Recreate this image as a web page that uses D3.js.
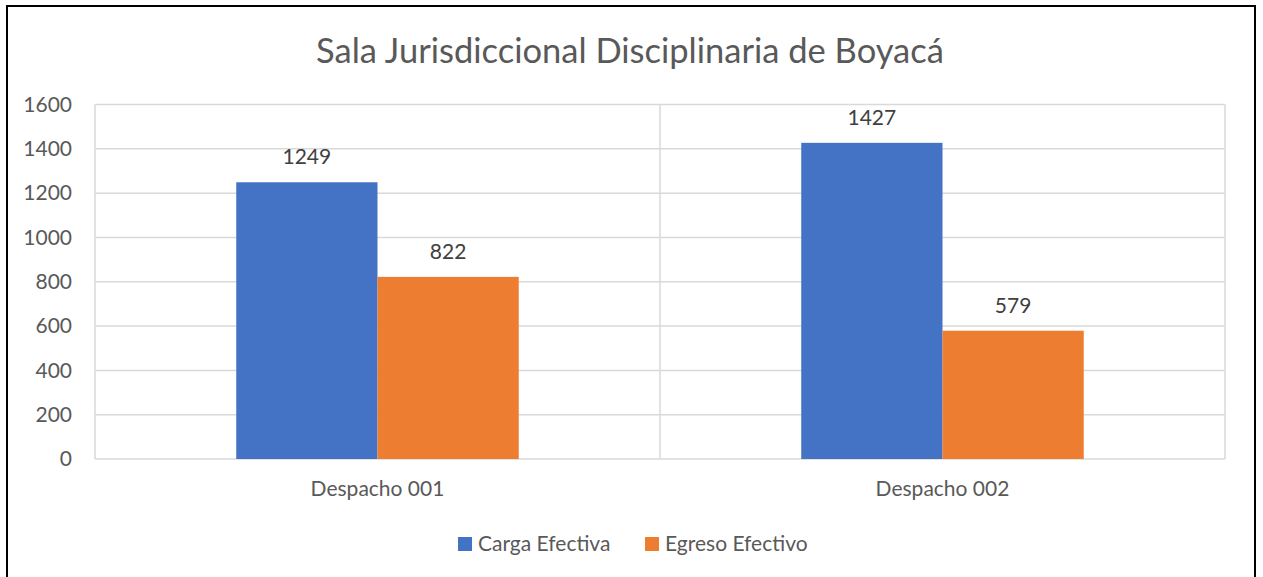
<!DOCTYPE html>
<html>
<head>
<meta charset="utf-8">
<script src="https://cdn.jsdelivr.net/npm/d3@7"></script>
<style>
  body { margin: 0; background: #fff; }
  svg { display: block; font-family: Lato, "Open Sans", sans-serif; }
</style>
</head>
<body>
<svg id="chart" width="1263" height="577"></svg>
<script>
// Datos del gráfico
const despachos = ['Despacho 001', 'Despacho 002'];
const series = ['Carga Efectiva', 'Egreso Efectivo'];
const cargaEfectiva = [1249, 1427];
const egresoEfectivo = [822, 579];
const yTicks = [0, 200, 400, 600, 800, 1000, 1200, 1400, 1600];
const colores = ['#4472c4', '#ed7d31'];

const W = 1263, H = 577;
const m = { left: 95, right: 38, top: 104.5, bottom: 118 };
const textColor = '#595959';
const gridColor = '#d9d9d9';
const fs = 21;

const svg = d3.select('#chart');

// Marco
svg.append('rect')
  .attr('x', 7).attr('y', 6)
  .attr('width', 1248).attr('height', 580)
  .attr('fill', '#fff')
  .attr('stroke', '#000').attr('stroke-width', 2);

// Título
svg.append('text')
  .attr('x', 630).attr('y', 63)
  .attr('text-anchor', 'middle')
  .attr('fill', textColor)
  .attr('font-size', 34.5)
  .text('Sala Jurisdiccional Disciplinaria de Boyacá');

const x0 = d3.scaleBand()
  .domain(despachos)
  .range([m.left, W - m.right])
  .paddingInner(0).paddingOuter(0);

const x1 = d3.scaleBand()
  .domain(series)
  .range([x0.bandwidth() * 0.25, x0.bandwidth() * 0.75]);

const y = d3.scaleLinear()
  .domain([0, 1600])
  .range([459, m.top]);

// Rejilla horizontal
svg.append('g')
  .selectAll('line')
  .data(yTicks)
  .join('line')
  .attr('x1', m.left).attr('x2', W - m.right)
  .attr('y1', d => y(d)).attr('y2', d => y(d))
  .attr('stroke', gridColor).attr('stroke-width', 1.5);

// Rejilla vertical (límites de categoría)
const vLines = [m.left, ...despachos.map(d => x0(d) + x0.bandwidth())];
svg.append('g')
  .selectAll('line')
  .data(vLines)
  .join('line')
  .attr('x1', d => d).attr('x2', d => d)
  .attr('y1', y(1600)).attr('y2', y(0))
  .attr('stroke', gridColor).attr('stroke-width', 1.5);

// Eje Y
const yAxis = svg.append('g')
  .attr('transform', `translate(${m.left - 23},0)`)
  .call(d3.axisLeft(y).tickValues(yTicks).tickFormat(d3.format('d')).tickSize(0).tickPadding(0));
yAxis.select('.domain').remove();
yAxis.selectAll('text')
  .attr('fill', textColor)
  .attr('font-size', fs)
  .attr('font-family', 'Lato, sans-serif');

// Eje X
const xAxis = svg.append('g')
  .attr('transform', `translate(0,${y(0)})`)
  .call(d3.axisBottom(x0).tickSize(0).tickPadding(22));
xAxis.select('.domain').remove();
xAxis.selectAll('text')
  .attr('fill', textColor)
  .attr('font-size', fs)
  .attr('font-family', 'Lato, sans-serif');

// Barras
const rows = despachos.map((d, i) => ({
  despacho: d,
  valores: [cargaEfectiva[i], egresoEfectivo[i]]
}));

const grupos = svg.append('g')
  .selectAll('g')
  .data(rows)
  .join('g')
  .attr('transform', d => `translate(${x0(d.despacho)},0)`);

grupos.selectAll('rect')
  .data(d => d.valores.map((v, j) => ({ serie: series[j], v, j })))
  .join('rect')
  .attr('x', d => x1(d.serie))
  .attr('y', d => y(d.v))
  .attr('width', x1.bandwidth())
  .attr('height', d => y(0) - y(d.v))
  .attr('fill', d => colores[d.j]);

grupos.selectAll('text')
  .data(d => d.valores.map((v, j) => ({ serie: series[j], v, j })))
  .join('text')
  .attr('x', d => x1(d.serie) + x1.bandwidth() / 2)
  .attr('y', d => y(d.v) - 18)
  .attr('text-anchor', 'middle')
  .attr('fill', '#404040')
  .attr('font-size', fs)
  .text(d => d.v);

// Leyenda
const leyenda = svg.append('g');
const legX = [458, 645];
series.forEach((s, i) => {
  leyenda.append('rect')
    .attr('x', legX[i]).attr('y', 537)
    .attr('width', 14).attr('height', 14)
    .attr('fill', colores[i]);
  leyenda.append('text')
    .attr('x', legX[i] + 20).attr('y', 551)
    .attr('fill', textColor)
    .attr('font-size', fs)
    .text(s);
});
</script>
</body>
</html>
